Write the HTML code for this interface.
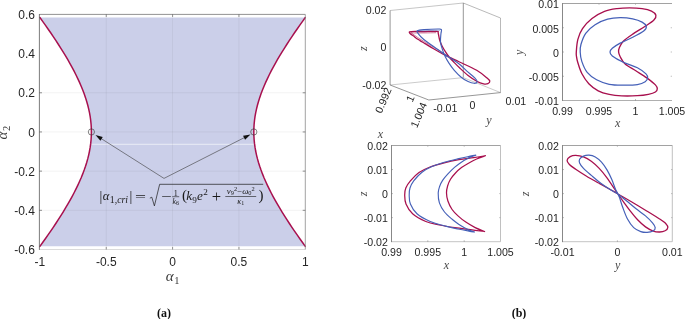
<!DOCTYPE html>
<html><head><meta charset="utf-8"><title>figure</title>
<style>
html,body{margin:0;padding:0;background:#fff}
svg{display:block}
</style></head><body>
<svg width="685" height="319" viewBox="0 0 685 319">
<rect x="0" y="0" width="685" height="319" fill="#ffffff"/>
<path d="M39.9 17.53L42.65 21.35L45.36 25.16L48.03 28.98L50.67 32.79L53.25 36.6L55.79 40.42L58.28 44.23L60.71 48.05L63.09 51.86L65.41 55.67L67.66 59.49L69.84 63.3L71.94 67.11L73.97 70.93L75.91 74.74L77.76 78.56L79.52 82.37L81.18 86.18L82.73 90L84.17 93.81L85.5 97.63L86.7 101.44L87.78 105.25L88.72 109.07L89.53 112.88L90.19 116.69L90.71 120.51L91.09 124.32L91.31 128.14L91.39 131.95L91.31 135.76L91.09 139.58L90.71 143.39L90.19 147.21L89.53 151.02L88.72 154.83L87.78 158.65L86.7 162.46L85.5 166.27L84.17 170.09L82.73 173.9L81.18 177.72L79.52 181.53L77.76 185.34L75.91 189.16L73.97 192.97L71.94 196.79L69.84 200.6L67.66 204.41L65.41 208.23L63.09 212.04L60.71 215.85L58.28 219.67L55.79 223.48L53.25 227.3L50.67 231.11L48.03 234.92L45.36 238.74L42.65 242.55L39.9 246.37L305.3 246.37L302.55 242.55L299.84 238.74L297.17 234.92L294.53 231.11L291.95 227.3L289.41 223.48L286.92 219.67L284.49 215.85L282.11 212.04L279.79 208.23L277.54 204.41L275.36 200.6L273.26 196.79L271.23 192.97L269.29 189.16L267.44 185.34L265.68 181.53L264.02 177.72L262.47 173.9L261.03 170.09L259.7 166.27L258.5 162.46L257.42 158.65L256.48 154.83L255.67 151.02L255.01 147.21L254.49 143.39L254.11 139.58L253.89 135.76L253.81 131.95L253.89 128.14L254.11 124.32L254.49 120.51L255.01 116.69L255.67 112.88L256.48 109.07L257.42 105.25L258.5 101.44L259.7 97.63L261.03 93.81L262.47 90L264.02 86.18L265.68 82.37L267.44 78.56L269.29 74.74L271.23 70.93L273.26 67.11L275.36 63.3L277.54 59.49L279.79 55.67L282.11 51.86L284.49 48.05L286.92 44.23L289.41 40.42L291.95 36.6L294.53 32.79L297.17 28.98L299.84 25.16L302.55 21.35L305.3 17.53Z" fill="#CBCFE9"/>
<line x1="91.33" y1="144.3" x2="253.87" y2="144.3" stroke="#ffffff" stroke-width="0.7" opacity="0.85"/>
<line x1="106.25" y1="14.4" x2="106.25" y2="249.5" stroke="#000" stroke-width="0.7" opacity="0.07"/>
<line x1="172.6" y1="14.4" x2="172.6" y2="249.5" stroke="#000" stroke-width="0.7" opacity="0.07"/>
<line x1="238.95" y1="14.4" x2="238.95" y2="249.5" stroke="#000" stroke-width="0.7" opacity="0.07"/>
<line x1="39.4" y1="210.32" x2="305.3" y2="210.32" stroke="#000" stroke-width="0.7" opacity="0.07"/>
<line x1="39.4" y1="171.13" x2="305.3" y2="171.13" stroke="#000" stroke-width="0.7" opacity="0.07"/>
<line x1="39.4" y1="131.95" x2="305.3" y2="131.95" stroke="#000" stroke-width="0.7" opacity="0.07"/>
<line x1="39.4" y1="92.77" x2="305.3" y2="92.77" stroke="#000" stroke-width="0.7" opacity="0.07"/>
<path d="M39.9 17.53L42.65 21.35L45.36 25.16L48.03 28.98L50.67 32.79L53.25 36.6L55.79 40.42L58.28 44.23L60.71 48.05L63.09 51.86L65.41 55.67L67.66 59.49L69.84 63.3L71.94 67.11L73.97 70.93L75.91 74.74L77.76 78.56L79.52 82.37L81.18 86.18L82.73 90L84.17 93.81L85.5 97.63L86.7 101.44L87.78 105.25L88.72 109.07L89.53 112.88L90.19 116.69L90.71 120.51L91.09 124.32L91.31 128.14L91.39 131.95L91.31 135.76L91.09 139.58L90.71 143.39L90.19 147.21L89.53 151.02L88.72 154.83L87.78 158.65L86.7 162.46L85.5 166.27L84.17 170.09L82.73 173.9L81.18 177.72L79.52 181.53L77.76 185.34L75.91 189.16L73.97 192.97L71.94 196.79L69.84 200.6L67.66 204.41L65.41 208.23L63.09 212.04L60.71 215.85L58.28 219.67L55.79 223.48L53.25 227.3L50.67 231.11L48.03 234.92L45.36 238.74L42.65 242.55L39.9 246.37" fill="none" stroke="#A8104E" stroke-width="1.5" stroke-linejoin="round" stroke-linecap="round" />
<path d="M305.3 17.53L302.55 21.35L299.84 25.16L297.17 28.98L294.53 32.79L291.95 36.6L289.41 40.42L286.92 44.23L284.49 48.05L282.11 51.86L279.79 55.67L277.54 59.49L275.36 63.3L273.26 67.11L271.23 70.93L269.29 74.74L267.44 78.56L265.68 82.37L264.02 86.18L262.47 90L261.03 93.81L259.7 97.63L258.5 101.44L257.42 105.25L256.48 109.07L255.67 112.88L255.01 116.69L254.49 120.51L254.11 124.32L253.89 128.14L253.81 131.95L253.89 135.76L254.11 139.58L254.49 143.39L255.01 147.21L255.67 151.02L256.48 154.83L257.42 158.65L258.5 162.46L259.7 166.27L261.03 170.09L262.47 173.9L264.02 177.72L265.68 181.53L267.44 185.34L269.29 189.16L271.23 192.97L273.26 196.79L275.36 200.6L277.54 204.41L279.79 208.23L282.11 212.04L284.49 215.85L286.92 219.67L289.41 223.48L291.95 227.3L294.53 231.11L297.17 234.92L299.84 238.74L302.55 242.55L305.3 246.37" fill="none" stroke="#A8104E" stroke-width="1.5" stroke-linejoin="round" stroke-linecap="round" />
<line x1="39.4" y1="249.5" x2="305.3" y2="249.5" stroke="#d2d2d2" stroke-width="0.8" />
<line x1="305.3" y1="14.4" x2="305.3" y2="249.5" stroke="#8c8c8c" stroke-width="0.8" />
<line x1="39.4" y1="14.4" x2="305.3" y2="14.4" stroke="#767676" stroke-width="0.8" />
<line x1="39.4" y1="14" x2="39.4" y2="249.9" stroke="#5a5a5a" stroke-width="0.8" />
<line x1="106.25" y1="249.5" x2="106.25" y2="246.9" stroke="#4a4a4a" stroke-width="0.6" />
<line x1="106.25" y1="14.4" x2="106.25" y2="17" stroke="#4a4a4a" stroke-width="0.6" />
<line x1="172.6" y1="249.5" x2="172.6" y2="246.9" stroke="#4a4a4a" stroke-width="0.6" />
<line x1="172.6" y1="14.4" x2="172.6" y2="17" stroke="#4a4a4a" stroke-width="0.6" />
<line x1="238.95" y1="249.5" x2="238.95" y2="246.9" stroke="#4a4a4a" stroke-width="0.6" />
<line x1="238.95" y1="14.4" x2="238.95" y2="17" stroke="#4a4a4a" stroke-width="0.6" />
<line x1="39.4" y1="210.32" x2="42" y2="210.32" stroke="#4a4a4a" stroke-width="0.6" />
<line x1="305.3" y1="210.32" x2="302.7" y2="210.32" stroke="#4a4a4a" stroke-width="0.6" />
<line x1="39.4" y1="171.13" x2="42" y2="171.13" stroke="#4a4a4a" stroke-width="0.6" />
<line x1="305.3" y1="171.13" x2="302.7" y2="171.13" stroke="#4a4a4a" stroke-width="0.6" />
<line x1="39.4" y1="131.95" x2="42" y2="131.95" stroke="#4a4a4a" stroke-width="0.6" />
<line x1="305.3" y1="131.95" x2="302.7" y2="131.95" stroke="#4a4a4a" stroke-width="0.6" />
<line x1="39.4" y1="92.77" x2="42" y2="92.77" stroke="#4a4a4a" stroke-width="0.6" />
<line x1="305.3" y1="92.77" x2="302.7" y2="92.77" stroke="#4a4a4a" stroke-width="0.6" />
<text x="34.9" y="19.1" font-size="12" text-anchor="end" font-family='"Liberation Sans", sans-serif' fill="#262626" >0.6</text>
<text x="34.9" y="58.28" font-size="12" text-anchor="end" font-family='"Liberation Sans", sans-serif' fill="#262626" >0.4</text>
<text x="34.9" y="97.46" font-size="12" text-anchor="end" font-family='"Liberation Sans", sans-serif' fill="#262626" >0.2</text>
<text x="34.9" y="136.65" font-size="12" text-anchor="end" font-family='"Liberation Sans", sans-serif' fill="#262626" >0</text>
<text x="34.9" y="175.83" font-size="12" text-anchor="end" font-family='"Liberation Sans", sans-serif' fill="#262626" >-0.2</text>
<text x="34.9" y="215.01" font-size="12" text-anchor="end" font-family='"Liberation Sans", sans-serif' fill="#262626" >-0.4</text>
<text x="34.9" y="254.2" font-size="12" text-anchor="end" font-family='"Liberation Sans", sans-serif' fill="#262626" >-0.6</text>
<text x="39.9" y="265.9" font-size="12" text-anchor="middle" font-family='"Liberation Sans", sans-serif' fill="#262626" >-1</text>
<text x="106.25" y="265.9" font-size="12" text-anchor="middle" font-family='"Liberation Sans", sans-serif' fill="#262626" >-0.5</text>
<text x="172.6" y="265.9" font-size="12" text-anchor="middle" font-family='"Liberation Sans", sans-serif' fill="#262626" >0</text>
<text x="238.95" y="265.9" font-size="12" text-anchor="middle" font-family='"Liberation Sans", sans-serif' fill="#262626" >0.5</text>
<text x="305.3" y="265.9" font-size="12" text-anchor="middle" font-family='"Liberation Sans", sans-serif' fill="#262626" >1</text>
<text x="172.6" y="281" font-size="15" text-anchor="middle" font-family='"Liberation Serif", serif' font-style="italic" fill="#3a3a3a">α<tspan font-size="10.5" dy="3" dx="0.8" font-style="normal">1</tspan></text>
<text transform="translate(7.2,132.6) rotate(-90)" font-size="15" text-anchor="middle" font-family='"Liberation Serif", serif' font-style="italic" fill="#3a3a3a">α<tspan font-size="10.5" dy="3" dx="0.8" font-style="normal">2</tspan></text>
<text x="164" y="316.7" font-size="12" text-anchor="middle" font-family='"Liberation Serif", serif' fill="#111" font-weight="bold" >(a)</text>
<circle cx="91.39" cy="131.95" r="3.1" fill="none" stroke="#333" stroke-width="0.6"/>
<circle cx="253.81" cy="131.95" r="3.1" fill="none" stroke="#333" stroke-width="0.6"/>
<line x1="164" y1="178.4" x2="100.74" y2="138.32" stroke="#3a3a3a" stroke-width="0.6" />
<path d="M95.5 135L102.76 137L100.4 140.71Z" fill="#111"/>
<line x1="164" y1="178.4" x2="244.97" y2="137.31" stroke="#3a3a3a" stroke-width="0.6" />
<path d="M250.5 134.5L245.08 139.72L243.08 135.8Z" fill="#111"/>
<text x="99.4" y="200.6" font-size="14" text-anchor="start" font-family='"Liberation Serif", serif' fill="#1a1a1a" font-style="normal" >|</text>
<text x="102.8" y="200.4" font-size="12.6" text-anchor="start" font-family='"Liberation Serif", serif' fill="#1a1a1a" font-style="italic" >α</text>
<text x="109.8" y="203.4" font-size="9.8" text-anchor="start" font-family='"Liberation Serif", serif' fill="#1a1a1a" font-style="normal" >1,</text>
<text x="117.2" y="203.4" font-size="9.8" text-anchor="start" font-family='"Liberation Serif", serif' fill="#1a1a1a" font-style="italic" >cri</text>
<text x="129.6" y="200.6" font-size="14" text-anchor="start" font-family='"Liberation Serif", serif' fill="#1a1a1a" font-style="normal" >|</text>
<text x="140.5" y="201" font-size="13.2" text-anchor="middle" font-family='"Liberation Serif", serif' fill="#1a1a1a" font-style="normal" textLength="11" lengthAdjust="spacingAndGlyphs">=</text>
<path d="M150.2 198L151.8 197.2L154.4 205.9L159.65 184.3L262.8 184.3" fill="none" stroke="#1a1a1a" stroke-width="0.7" stroke-linejoin="round" stroke-linecap="round" />
<text x="166.4" y="201" font-size="13.2" text-anchor="middle" font-family='"Liberation Serif", serif' fill="#1a1a1a" font-style="normal" textLength="10.6" lengthAdjust="spacingAndGlyphs">−</text>
<text x="175.7" y="195.5" font-size="8" text-anchor="middle" font-family='"Liberation Serif", serif' fill="#1a1a1a" font-style="normal" >1</text>
<line x1="172.2" y1="196.7" x2="179.2" y2="196.7" stroke="#1a1a1a" stroke-width="0.6" />
<text x="175.7" y="203.6" font-size="7.8" text-anchor="middle" font-family='"Liberation Serif", serif' font-style="italic" fill="#1a1a1a">k<tspan font-size="6" dy="1.2" font-style="normal">6</tspan></text>
<text x="182" y="200" font-size="15" text-anchor="start" font-family='"Liberation Serif", serif' fill="#1a1a1a" font-style="normal" >(</text>
<text x="186.2" y="200.4" font-size="13.2" text-anchor="start" font-family='"Liberation Serif", serif' fill="#1a1a1a" font-style="italic" >k</text>
<text x="192.2" y="203.2" font-size="9.2" text-anchor="start" font-family='"Liberation Serif", serif' fill="#1a1a1a" font-style="normal" >9</text>
<text x="197" y="200.4" font-size="13.2" text-anchor="start" font-family='"Liberation Serif", serif' fill="#1a1a1a" font-style="italic" >e</text>
<text x="203.2" y="195.1" font-size="9.2" text-anchor="start" font-family='"Liberation Serif", serif' fill="#1a1a1a" font-style="normal" >2</text>
<text x="216.4" y="201.6" font-size="16.6" text-anchor="middle" font-family='"Liberation Serif", serif' fill="#1a1a1a" font-style="normal" >+</text>
<text x="240.8" y="194.0" font-size="8.8" text-anchor="middle" font-family='"Liberation Serif", serif' font-style="italic" fill="#1a1a1a">ν<tspan font-size="6.4" dy="1.4" font-style="normal">9</tspan><tspan font-size="6.4" dy="-4.8" font-style="normal">2</tspan><tspan dy="3.4" font-style="normal">−</tspan>ω<tspan font-size="6.4" dy="1.4" font-style="normal">0</tspan><tspan font-size="6.4" dy="-4.8" font-style="normal">2</tspan></text>
<line x1="225.3" y1="196.5" x2="256.2" y2="196.5" stroke="#1a1a1a" stroke-width="0.6" />
<text x="240.8" y="203.6" font-size="8.2" text-anchor="middle" font-family='"Liberation Serif", serif' font-style="italic" fill="#1a1a1a">κ<tspan font-size="6" dy="1.2" font-style="normal">1</tspan></text>
<text x="258.4" y="200" font-size="15" text-anchor="start" font-family='"Liberation Serif", serif' fill="#1a1a1a" font-style="normal" >)</text>
<line x1="562.5" y1="100.5" x2="672" y2="100.5" stroke="#9a9a9a" stroke-width="0.8" />
<line x1="562.5" y1="3.5" x2="672" y2="3.5" stroke="#8a8a8a" stroke-width="0.8" />
<line x1="562.5" y1="3.1" x2="562.5" y2="100.9" stroke="#6a6a6a" stroke-width="0.8" />
<text x="562.5" y="114.8" font-size="10.6" text-anchor="middle" font-family='"Liberation Sans", sans-serif' fill="#262626" >0.99</text>
<line x1="599" y1="100.5" x2="599" y2="99.2" stroke="#777" stroke-width="0.6" />
<line x1="599" y1="3.5" x2="599" y2="4.8" stroke="#999" stroke-width="0.6" />
<text x="599" y="114.8" font-size="10.6" text-anchor="middle" font-family='"Liberation Sans", sans-serif' fill="#262626" >0.995</text>
<line x1="635.5" y1="100.5" x2="635.5" y2="99.2" stroke="#777" stroke-width="0.6" />
<line x1="635.5" y1="3.5" x2="635.5" y2="4.8" stroke="#999" stroke-width="0.6" />
<text x="635.5" y="114.8" font-size="10.6" text-anchor="middle" font-family='"Liberation Sans", sans-serif' fill="#262626" >1</text>
<text x="672" y="114.8" font-size="10.6" text-anchor="middle" font-family='"Liberation Sans", sans-serif' fill="#262626" >1.005</text>
<text x="558.9" y="8.29" font-size="10.6" text-anchor="end" font-family='"Liberation Sans", sans-serif' fill="#262626" >0.01</text>
<line x1="562.5" y1="27.75" x2="563.8" y2="27.75" stroke="#777" stroke-width="0.6" />
<line x1="672" y1="27.75" x2="670.7" y2="27.75" stroke="#999" stroke-width="0.6" />
<text x="558.9" y="32.54" font-size="10.6" text-anchor="end" font-family='"Liberation Sans", sans-serif' fill="#262626" >0.005</text>
<line x1="562.5" y1="52" x2="563.8" y2="52" stroke="#777" stroke-width="0.6" />
<line x1="672" y1="52" x2="670.7" y2="52" stroke="#999" stroke-width="0.6" />
<text x="558.9" y="56.79" font-size="10.6" text-anchor="end" font-family='"Liberation Sans", sans-serif' fill="#262626" >0</text>
<line x1="562.5" y1="76.25" x2="563.8" y2="76.25" stroke="#777" stroke-width="0.6" />
<line x1="672" y1="76.25" x2="670.7" y2="76.25" stroke="#999" stroke-width="0.6" />
<text x="558.9" y="81.04" font-size="10.6" text-anchor="end" font-family='"Liberation Sans", sans-serif' fill="#262626" >-0.005</text>
<text x="558.9" y="105.29" font-size="10.6" text-anchor="end" font-family='"Liberation Sans", sans-serif' fill="#262626" >-0.01</text>
<text x="617.55" y="127.1" font-size="12" text-anchor="middle" font-family='"Liberation Serif", serif' fill="#4a4a4a" font-style="italic" >x</text>
<text transform="translate(522.8,52.4) rotate(-90)" font-size="12" text-anchor="middle" font-family='"Liberation Serif", serif' font-style="italic" fill="#4a4a4a">y</text>
<path d="M576.3 52C576.52 49.18 576.77 43.5 577.8 39.6C578.83 35.7 580.13 32.12 582.5 28.6C584.87 25.08 588.33 21.37 592 18.5C595.67 15.63 600.33 13.05 604.5 11.4C608.67 9.75 612.82 9.2 617 8.6C621.18 8 625.42 7.8 629.6 7.8C633.78 7.8 638.45 8.05 642.1 8.6C645.75 9.15 649.2 9.98 651.5 11.1C653.8 12.22 655.5 13.82 655.9 15.3C656.3 16.78 655.68 18.17 653.9 20C652.12 21.83 648.73 23.95 645.2 26.3C641.67 28.65 636.35 31.62 632.7 34.1C629.05 36.58 625.52 38.97 623.3 41.2C621.08 43.43 620.18 45.7 619.4 47.5C618.62 49.3 618.47 50.47 618.6 52C618.73 53.53 619.15 54.73 620.2 56.7C621.25 58.67 622.3 61.45 624.9 63.8C627.5 66.15 632.15 68.45 635.8 70.8C639.45 73.15 643.53 75.55 646.8 77.9C650.07 80.25 653.65 83.08 655.4 84.9C657.15 86.72 657.3 87.62 657.3 88.8C657.3 89.98 656.88 91.08 655.4 92C653.92 92.92 651.4 93.68 648.4 94.3C645.4 94.92 641.85 95.43 637.4 95.7C632.95 95.97 626.4 96.12 621.7 95.9C617 95.68 613.12 95.25 609.2 94.4C605.28 93.55 601.6 92.58 598.2 90.8C594.8 89.02 591.53 86.58 588.8 83.7C586.07 80.82 583.63 77.03 581.8 73.5C579.97 69.97 578.68 65.33 577.8 62.5C576.92 59.67 576.75 58.25 576.5 56.5C576.25 54.75 576.08 54.82 576.3 52Z" fill="none" stroke="#A8104E" stroke-width="1.35" stroke-linejoin="round" stroke-linecap="round" />
<path d="M580.2 52C580.07 49.15 580.08 47.42 581 44.3C581.92 41.18 583.35 36.57 585.7 33.3C588.05 30.03 591.45 27.05 595.1 24.7C598.75 22.35 603.42 20.37 607.6 19.2C611.78 18.03 616.02 17.75 620.2 17.7C624.38 17.65 629.05 18.17 632.7 18.9C636.35 19.63 639.83 20.87 642.1 22.1C644.37 23.33 646.03 24.82 646.3 26.3C646.57 27.78 645.97 29.17 643.7 31C641.43 32.83 636.62 35.28 632.7 37.3C628.78 39.32 623.6 41.28 620.2 43.1C616.8 44.92 614 46.72 612.3 48.2C610.6 49.68 610 50.72 610 52C610 53.28 610.08 54.2 612.3 55.9C614.52 57.6 619.12 60.23 623.3 62.2C627.48 64.17 633.62 65.75 637.4 67.7C641.18 69.65 644.3 72.2 646 73.9C647.7 75.6 647.73 76.58 647.6 77.9C647.47 79.22 646.9 80.68 645.2 81.8C643.5 82.92 641.05 84.03 637.4 84.6C633.75 85.17 628 85.25 623.3 85.2C618.6 85.15 613.65 85.2 609.2 84.3C604.75 83.4 600.27 81.78 596.6 79.8C592.93 77.82 589.67 75.47 587.2 72.4C584.73 69.33 582.97 64.8 581.8 61.4C580.63 58 580.33 54.85 580.2 52Z" fill="none" stroke="#4560B8" stroke-width="1.25" stroke-linejoin="round" stroke-linecap="round" />
<line x1="391.5" y1="241.7" x2="500.5" y2="241.7" stroke="#b4b4b4" stroke-width="0.8" />
<line x1="500.5" y1="145.5" x2="500.5" y2="241.7" stroke="#b0b0b0" stroke-width="0.8" />
<line x1="391.5" y1="145.5" x2="500.5" y2="145.5" stroke="#8a8a8a" stroke-width="0.8" />
<line x1="391.5" y1="145.1" x2="391.5" y2="242.1" stroke="#6a6a6a" stroke-width="0.8" />
<text x="391.5" y="256" font-size="10.6" text-anchor="middle" font-family='"Liberation Sans", sans-serif' fill="#262626" >0.99</text>
<line x1="427.8" y1="241.7" x2="427.8" y2="240.4" stroke="#777" stroke-width="0.6" />
<line x1="427.8" y1="145.5" x2="427.8" y2="146.8" stroke="#999" stroke-width="0.6" />
<text x="427.8" y="256" font-size="10.6" text-anchor="middle" font-family='"Liberation Sans", sans-serif' fill="#262626" >0.995</text>
<line x1="464.2" y1="241.7" x2="464.2" y2="240.4" stroke="#777" stroke-width="0.6" />
<line x1="464.2" y1="145.5" x2="464.2" y2="146.8" stroke="#999" stroke-width="0.6" />
<text x="464.2" y="256" font-size="10.6" text-anchor="middle" font-family='"Liberation Sans", sans-serif' fill="#262626" >1</text>
<text x="500.5" y="256" font-size="10.6" text-anchor="middle" font-family='"Liberation Sans", sans-serif' fill="#262626" >1.005</text>
<text x="387.9" y="150.29" font-size="10.6" text-anchor="end" font-family='"Liberation Sans", sans-serif' fill="#262626" >0.02</text>
<line x1="391.5" y1="169.55" x2="392.8" y2="169.55" stroke="#777" stroke-width="0.6" />
<line x1="500.5" y1="169.55" x2="499.2" y2="169.55" stroke="#999" stroke-width="0.6" />
<text x="387.9" y="174.34" font-size="10.6" text-anchor="end" font-family='"Liberation Sans", sans-serif' fill="#262626" >0.01</text>
<line x1="391.5" y1="193.6" x2="392.8" y2="193.6" stroke="#777" stroke-width="0.6" />
<line x1="500.5" y1="193.6" x2="499.2" y2="193.6" stroke="#999" stroke-width="0.6" />
<text x="387.9" y="198.39" font-size="10.6" text-anchor="end" font-family='"Liberation Sans", sans-serif' fill="#262626" >0</text>
<line x1="391.5" y1="217.65" x2="392.8" y2="217.65" stroke="#777" stroke-width="0.6" />
<line x1="500.5" y1="217.65" x2="499.2" y2="217.65" stroke="#999" stroke-width="0.6" />
<text x="387.9" y="222.44" font-size="10.6" text-anchor="end" font-family='"Liberation Sans", sans-serif' fill="#262626" >-0.01</text>
<text x="387.9" y="246.49" font-size="10.6" text-anchor="end" font-family='"Liberation Sans", sans-serif' fill="#262626" >-0.02</text>
<text x="446.3" y="269.1" font-size="12" text-anchor="middle" font-family='"Liberation Serif", serif' fill="#4a4a4a" font-style="italic" >x</text>
<text transform="translate(366.6,194) rotate(-90)" font-size="12" text-anchor="middle" font-family='"Liberation Serif", serif' font-style="italic" fill="#4a4a4a">z</text>
<path d="M485.4 155.7C483.43 156.02 478.02 156.93 473.6 157.6C469.18 158.27 463.8 158.83 458.9 159.7C454 160.57 449.02 161.58 444.2 162.8C439.38 164.02 434.2 165.37 430 167C425.8 168.63 422.27 170.28 419 172.6C415.73 174.92 412.6 178.33 410.4 180.9C408.2 183.47 406.75 185.65 405.8 188C404.85 190.35 404.67 192.33 404.7 195C404.73 197.67 404.68 200.87 406 204C407.32 207.13 409.3 210.88 412.6 213.8C415.9 216.72 421.37 219.63 425.8 221.5C430.23 223.37 434.35 223.97 439.2 225C444.05 226.03 449.68 226.92 454.9 227.7C460.12 228.48 465.55 229.07 470.5 229.7C475.45 230.33 482.25 231.2 484.6 231.5 M484.6 231.5C483.03 230.85 478.33 229.17 475.2 227.6C472.07 226.03 468.67 224.05 465.8 222.1C462.93 220.15 460.28 218 458 215.9C455.72 213.8 453.78 211.98 452.1 209.5C450.42 207.02 448.83 203.75 447.9 201C446.97 198.25 446.55 195.5 446.5 193C446.45 190.5 446.93 188.28 447.6 186C448.27 183.72 449.18 181.47 450.5 179.3C451.82 177.13 453.67 174.95 455.5 173C457.33 171.05 459.33 169.23 461.5 167.6C463.67 165.97 465.98 164.63 468.5 163.2C471.02 161.77 473.78 160.25 476.6 159C479.42 157.75 483.93 156.25 485.4 155.7" fill="none" stroke="#A8104E" stroke-width="1.25" stroke-linejoin="round" stroke-linecap="round" />
<path d="M475.8 155.1C474.7 155.32 472.02 155.82 469.2 156.4C466.38 156.98 463.07 157.63 458.9 158.6C454.73 159.57 448.68 160.87 444.2 162.2C439.72 163.53 435.7 164.93 432 166.6C428.3 168.27 425.05 169.82 422 172.2C418.95 174.58 415.7 178.27 413.7 180.9C411.7 183.53 410.75 185.65 410 188C409.25 190.35 409.13 192.33 409.2 195C409.27 197.67 409.1 200.87 410.4 204C411.7 207.13 413.7 210.88 417 213.8C420.3 216.72 425.45 219.45 430.2 221.5C434.95 223.55 440.87 224.85 445.5 226.1C450.13 227.35 454.08 228.17 458 229C461.92 229.83 466.25 230.6 469 231.1C471.75 231.6 473.58 231.85 474.5 232 M474.5 232C473.32 231.53 469.98 230.47 467.4 229.2C464.82 227.93 461.55 226.05 459 224.4C456.45 222.75 454.52 221.37 452.1 219.3C449.68 217.23 446.62 214.73 444.5 212C442.38 209.27 440.45 206.07 439.4 202.9C438.35 199.73 438.17 195.73 438.2 193C438.23 190.27 438.87 188.6 439.6 186.5C440.33 184.4 441.25 182.45 442.6 180.4C443.95 178.35 445.72 176.37 447.7 174.2C449.68 172.03 452.28 169.37 454.5 167.4C456.72 165.43 458.8 163.88 461 162.4C463.2 160.92 465.23 159.72 467.7 158.5C470.17 157.28 474.45 155.67 475.8 155.1" fill="none" stroke="#4560B8" stroke-width="1.15" stroke-linejoin="round" stroke-linecap="round" />
<line x1="562.5" y1="241.7" x2="672.3" y2="241.7" stroke="#b4b4b4" stroke-width="0.8" />
<line x1="672.3" y1="145.5" x2="672.3" y2="241.7" stroke="#b0b0b0" stroke-width="0.8" />
<line x1="562.5" y1="145.5" x2="672.3" y2="145.5" stroke="#8a8a8a" stroke-width="0.8" />
<line x1="562.5" y1="145.1" x2="562.5" y2="242.1" stroke="#6a6a6a" stroke-width="0.8" />
<text x="562.5" y="256" font-size="10.6" text-anchor="middle" font-family='"Liberation Sans", sans-serif' fill="#262626" >-0.01</text>
<line x1="617.4" y1="241.7" x2="617.4" y2="240.4" stroke="#777" stroke-width="0.6" />
<line x1="617.4" y1="145.5" x2="617.4" y2="146.8" stroke="#999" stroke-width="0.6" />
<text x="617.4" y="256" font-size="10.6" text-anchor="middle" font-family='"Liberation Sans", sans-serif' fill="#262626" >0</text>
<text x="672.3" y="256" font-size="10.6" text-anchor="middle" font-family='"Liberation Sans", sans-serif' fill="#262626" >0.01</text>
<text x="558.9" y="150.29" font-size="10.6" text-anchor="end" font-family='"Liberation Sans", sans-serif' fill="#262626" >0.02</text>
<line x1="562.5" y1="169.55" x2="563.8" y2="169.55" stroke="#777" stroke-width="0.6" />
<line x1="672.3" y1="169.55" x2="671" y2="169.55" stroke="#999" stroke-width="0.6" />
<text x="558.9" y="174.34" font-size="10.6" text-anchor="end" font-family='"Liberation Sans", sans-serif' fill="#262626" >0.01</text>
<line x1="562.5" y1="193.6" x2="563.8" y2="193.6" stroke="#777" stroke-width="0.6" />
<line x1="672.3" y1="193.6" x2="671" y2="193.6" stroke="#999" stroke-width="0.6" />
<text x="558.9" y="198.39" font-size="10.6" text-anchor="end" font-family='"Liberation Sans", sans-serif' fill="#262626" >0</text>
<line x1="562.5" y1="217.65" x2="563.8" y2="217.65" stroke="#777" stroke-width="0.6" />
<line x1="672.3" y1="217.65" x2="671" y2="217.65" stroke="#999" stroke-width="0.6" />
<text x="558.9" y="222.44" font-size="10.6" text-anchor="end" font-family='"Liberation Sans", sans-serif' fill="#262626" >-0.01</text>
<text x="558.9" y="246.49" font-size="10.6" text-anchor="end" font-family='"Liberation Sans", sans-serif' fill="#262626" >-0.02</text>
<text x="617.7" y="269.1" font-size="12" text-anchor="middle" font-family='"Liberation Serif", serif' fill="#4a4a4a" font-style="italic" >y</text>
<text transform="translate(528.6,194) rotate(-90)" font-size="12" text-anchor="middle" font-family='"Liberation Serif", serif' font-style="italic" fill="#4a4a4a">z</text>
<path d="M617.9 194C616.47 191.95 616.72 192.2 614.9 189.5C613.08 186.8 609.62 181.32 607 177.8C604.38 174.28 601.82 171.15 599.2 168.4C596.58 165.65 593.92 163.22 591.3 161.3C588.68 159.38 586.1 157.88 583.5 156.9C580.9 155.92 577.92 155.45 575.7 155.4C573.48 155.35 571.63 155.8 570.2 156.6C568.77 157.4 567.23 158.88 567.1 160.2C566.97 161.52 567.97 163 569.4 164.5C570.83 166 572.83 167.25 575.7 169.2C578.57 171.15 582.68 173.85 586.6 176.2C590.52 178.55 595.27 181.08 599.2 183.3C603.13 185.52 607.08 187.72 610.2 189.5C613.32 191.28 614.37 191.95 617.9 194C621.43 196.05 626.53 198.93 631.4 201.8C636.27 204.67 642.4 208.33 647.1 211.2C651.8 214.07 656.47 216.92 659.6 219C662.73 221.08 664.53 222.27 665.9 223.7C667.27 225.13 667.93 226.42 667.8 227.6C667.67 228.78 666.47 230.07 665.1 230.8C663.73 231.53 661.57 231.95 659.6 232C657.63 232.05 655.65 231.95 653.3 231.1C650.95 230.25 648.12 228.78 645.5 226.9C642.88 225.02 640.22 222.55 637.6 219.8C634.98 217.05 632.15 213.4 629.8 210.4C627.45 207.4 625.48 204.53 623.5 201.8C621.52 199.07 619.33 196.05 617.9 194Z" fill="none" stroke="#A8104E" stroke-width="1.3" stroke-linejoin="round" stroke-linecap="round" />
<path d="M617.9 194C617.23 192.62 616.63 191.95 615.6 189.5C614.57 187.05 613.13 182.57 611.7 179.3C610.27 176.03 608.7 172.77 607 169.9C605.3 167.03 603.45 164.27 601.5 162.1C599.55 159.93 597.38 158.07 595.3 156.9C593.22 155.73 590.97 155.23 589 155.1C587.03 154.97 585.07 155.4 583.5 156.1C581.93 156.8 580.25 158.17 579.6 159.3C578.95 160.43 578.95 161.38 579.6 162.9C580.25 164.42 581.55 166.32 583.5 168.4C585.45 170.48 588.42 172.92 591.3 175.4C594.18 177.88 597.4 180.77 600.8 183.3C604.2 185.83 608.85 188.82 611.7 190.6C614.55 192.38 615.4 192.27 617.9 194C620.4 195.73 623.67 198.53 626.7 201C629.73 203.47 632.97 206.32 636.1 208.8C639.23 211.28 642.77 213.55 645.5 215.9C648.23 218.25 650.88 220.95 652.5 222.9C654.12 224.85 655.07 226.28 655.2 227.6C655.33 228.92 654.65 230 653.3 230.8C651.95 231.6 649.18 232.27 647.1 232.4C645.02 232.53 643.03 232.4 640.8 231.6C638.57 230.8 635.92 229.7 633.7 227.6C631.48 225.5 629.33 222.38 627.5 219C625.67 215.62 624.02 210.83 622.7 207.3C621.38 203.77 620.4 200.02 619.6 197.8C618.8 195.58 618.57 195.38 617.9 194Z" fill="none" stroke="#4560B8" stroke-width="1.2" stroke-linejoin="round" stroke-linecap="round" />
<line x1="390.1" y1="10.5" x2="463.3" y2="3" stroke="#a0a0a0" stroke-width="0.6" />
<line x1="463.3" y1="3" x2="500.5" y2="18" stroke="#8a8a8a" stroke-width="0.6" />
<line x1="463.3" y1="3" x2="463.3" y2="77.6" stroke="#6a6a6a" stroke-width="0.7" />
<line x1="390.1" y1="85" x2="463.3" y2="77.6" stroke="#a8a8a8" stroke-width="0.6" />
<line x1="463.3" y1="77.6" x2="500.5" y2="92.6" stroke="#a8a8a8" stroke-width="0.6" />
<line x1="500.5" y1="18" x2="500.5" y2="92.6" stroke="#8a8a8a" stroke-width="0.6" />
<line x1="390.1" y1="10.5" x2="390.1" y2="85" stroke="#6a6a6a" stroke-width="0.7" />
<line x1="390.1" y1="85" x2="428.8" y2="100" stroke="#6a6a6a" stroke-width="0.7" />
<line x1="428.8" y1="100" x2="500.5" y2="92.6" stroke="#6a6a6a" stroke-width="0.7" />
<text x="386.4" y="14.09" font-size="10.6" text-anchor="end" font-family='"Liberation Sans", sans-serif' fill="#262626" >0.02</text>
<text x="386.4" y="51.29" font-size="10.6" text-anchor="end" font-family='"Liberation Sans", sans-serif' fill="#262626" >0</text>
<text x="386.4" y="88.59" font-size="10.6" text-anchor="end" font-family='"Liberation Sans", sans-serif' fill="#262626" >-0.02</text>
<text x="445.3" y="112.3" font-size="10.6" text-anchor="middle" font-family='"Liberation Sans", sans-serif' fill="#262626" >-0.01</text>
<text x="472.5" y="109" font-size="10.6" text-anchor="middle" font-family='"Liberation Sans", sans-serif' fill="#262626" >0</text>
<text x="505.6" y="104.8" font-size="10.6" text-anchor="start" font-family='"Liberation Sans", sans-serif' fill="#262626" >0.01</text>
<text transform="translate(391.8,89.6) rotate(-67)" font-size="10.6" text-anchor="end" font-family='"Liberation Sans", sans-serif' fill="#262626">0.992</text>
<text transform="translate(414.8,97.2) rotate(-67)" font-size="10.6" text-anchor="end" font-family='"Liberation Sans", sans-serif' fill="#262626">1</text>
<text transform="translate(427.4,104.2) rotate(-67)" font-size="10.6" text-anchor="end" font-family='"Liberation Sans", sans-serif' fill="#262626">1.004</text>
<text x="489" y="124.1" font-size="12" text-anchor="middle" font-family='"Liberation Serif", serif' fill="#4a4a4a" font-style="italic" >y</text>
<text x="380.4" y="137.9" font-size="12" text-anchor="middle" font-family='"Liberation Serif", serif' fill="#4a4a4a" font-style="italic" >x</text>
<text transform="translate(367.2,48.6) rotate(-90)" font-size="12" text-anchor="middle" font-family='"Liberation Serif", serif' font-style="italic" fill="#4a4a4a">z</text>
<path d="M409.6 31.9C411.15 31.02 419.43 31.68 424 31.6C428.57 31.52 434.63 31.13 437 31.4C439.37 31.67 437.75 31.73 438.2 33.2C438.65 34.67 439.03 38.03 439.7 40.2C440.37 42.37 441.2 44.2 442.2 46.2C443.2 48.2 444.55 50.4 445.7 52.2C446.85 54 447.67 55.27 449.1 57C450.53 58.73 452.57 60.8 454.3 62.6C456.03 64.4 457.2 65.65 459.5 67.8C461.8 69.95 465.23 73.27 468.1 75.5C470.97 77.73 474.12 79.82 476.7 81.2C479.28 82.58 481.73 83.4 483.6 83.8C485.47 84.2 486.87 84.03 487.9 83.6C488.93 83.17 489.93 82.12 489.8 81.2C489.67 80.28 489.28 79.92 487.1 78.1C484.92 76.28 481.3 72.98 476.7 70.3C472.1 67.62 464.1 64.18 459.5 62C454.9 59.82 451.97 58.58 449.1 57.2C446.23 55.82 444.88 55.1 442.3 53.7C439.72 52.3 436.48 50.48 433.6 48.8C430.72 47.12 427.27 44.97 425 43.6C422.73 42.23 421.72 41.72 420 40.6C418.28 39.48 416.43 38.35 414.7 36.9C412.97 35.45 408.05 32.78 409.6 31.9Z" fill="none" stroke="#A8104E" stroke-width="1.3" stroke-linejoin="round" stroke-linecap="round" />
<path d="M411.2 32.9C413.33 32.9 419.9 32.93 424 32.9C428.1 32.87 433.83 32.73 435.8 32.7" fill="none" stroke="#A8104E" stroke-width="0.8" stroke-linejoin="round" stroke-linecap="round" opacity="0.75"/>
<path d="M411.4 33C412.83 34 416.68 36.87 420 39C423.32 41.13 427.63 43.6 431.3 45.8C434.97 48 439.05 50.4 442 52.2C444.95 54 447.83 55.87 449 56.6" fill="none" stroke="#A8104E" stroke-width="0.8" stroke-linejoin="round" stroke-linecap="round" opacity="0.7"/>
<path d="M417.3 30.8C418.23 30.1 420.55 29.9 424 29.6C427.45 29.3 435.1 29 438 29C440.9 29 440.92 28.77 441.4 29.6C441.88 30.43 441.05 31.95 440.9 34C440.75 36.05 440.28 39.43 440.5 41.9C440.72 44.37 441.48 46.5 442.2 48.8C442.92 51.1 443.65 53.27 444.8 55.7C445.95 58.13 447.52 60.97 449.1 63.4C450.68 65.83 452.28 68 454.3 70.3C456.32 72.6 458.9 75.32 461.2 77.2C463.5 79.08 465.95 80.58 468.1 81.6C470.25 82.62 472.58 83.25 474.1 83.3C475.62 83.35 477.05 82.77 477.2 81.9C477.35 81.03 476.52 79.73 475 78.1C473.48 76.47 470.68 74.4 468.1 72.1C465.52 69.8 462.37 66.6 459.5 64.3C456.63 62 453.48 60.02 450.9 58.3C448.32 56.58 446.88 55.97 444 54C441.12 52.03 436.97 48.92 433.6 46.5C430.23 44.08 426.33 41.62 423.8 39.5C421.27 37.38 419.48 35.25 418.4 33.8C417.32 32.35 416.37 31.5 417.3 30.8Z" fill="none" stroke="#4560B8" stroke-width="1.15" stroke-linejoin="round" stroke-linecap="round" />
<path d="M418.6 31C420.17 30.93 424.5 30.73 428 30.6C431.5 30.47 437.67 30.27 439.6 30.2" fill="none" stroke="#4560B8" stroke-width="0.7" stroke-linejoin="round" stroke-linecap="round" opacity="0.7"/>
<text x="519" y="316.7" font-size="12" text-anchor="middle" font-family='"Liberation Serif", serif' fill="#111" font-weight="bold" >(b)</text>
</svg>
</body></html>
